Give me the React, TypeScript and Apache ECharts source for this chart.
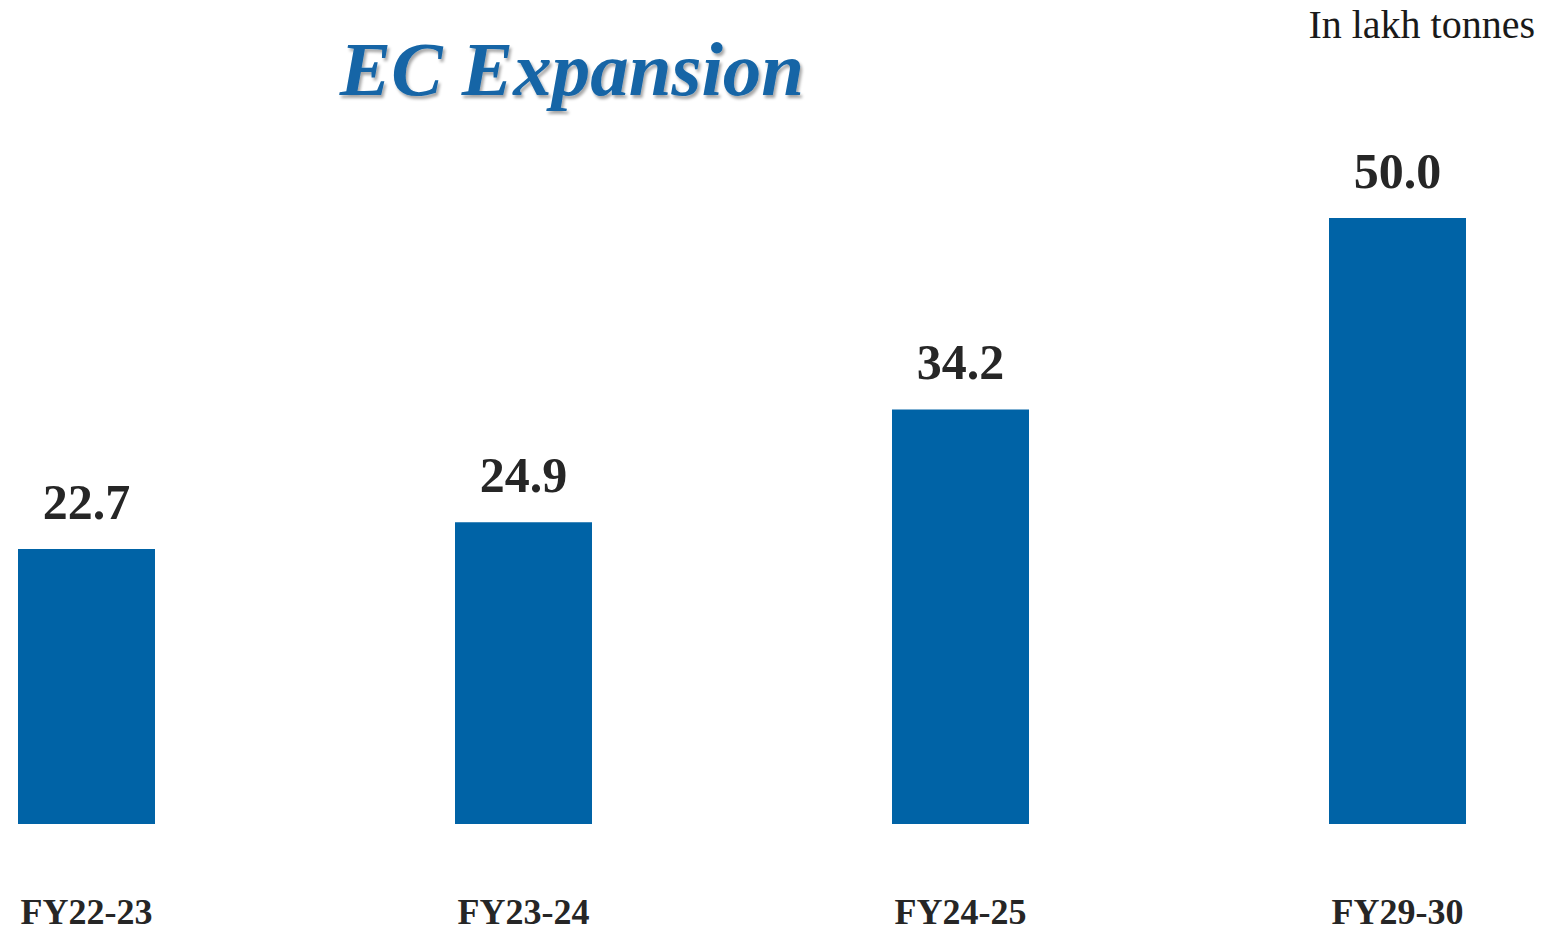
import React, { useEffect, useRef } from "react";
import * as echarts from "echarts";

const categories = ["FY22-23", "FY23-24", "FY24-25", "FY29-30"];
const values = [22.7, 24.9, 34.2, 50.0];
const titleText = "EC Expansion";
const unitText = "In lakh tonnes";

export default function App() {
  const ref = useRef<HTMLDivElement>(null);
  useEffect(() => {
    if (!ref.current) return;
    const chart = echarts.init(ref.current, null, { renderer: "svg" });
    chart.setOption({
      animation: false,
      backgroundColor: "#ffffff",
      grid: { left: 86.5, right: 148.5, top: 218, bottom: 108, containLabel: false },
      xAxis: {
        type: "category",
        data: categories,
        boundaryGap: false,
        axisLine: { show: false },
        axisTick: { show: false },
        splitLine: { show: false },
        axisLabel: {
          margin: 70,
          color: "#262626",
          fontFamily: "Liberation Serif",
          fontWeight: "bold",
          fontSize: 36,
        },
      },
      yAxis: {
        type: "value",
        min: 0,
        max: 50,
        show: false,
        splitLine: { show: false },
      },
      series: [
        {
          type: "bar",
          data: values,
          barWidth: 137,
          clip: false,
          itemStyle: { color: "#0063A6" },
          label: {
            show: true,
            position: "top",
            distance: 22,
            formatter: (p: any) => Number(p.value).toFixed(1),
            color: "#262626",
            fontFamily: "Liberation Serif",
            fontWeight: "bold",
            fontSize: 50,
          },
        },
      ],
      graphic: [
        {
          type: "text",
          x: 572,
          y: 69,
          style: {
            text: titleText,
            fontFamily: "Liberation Serif",
            fontStyle: "italic",
            fontWeight: "bold",
            fontSize: 77,
            fill: "#1565A6",
            align: "center",
            verticalAlign: "middle",
            textShadowColor: "rgba(0,0,0,0.35)",
            textShadowBlur: 3,
            textShadowOffsetX: 2,
            textShadowOffsetY: 3,
          },
        },
        {
          type: "text",
          x: 1535,
          y: 24,
          style: {
            text: unitText,
            fontFamily: "Liberation Serif",
            fontSize: 40,
            fill: "#1a1a1a",
            align: "right",
            verticalAlign: "middle",
          },
        },
      ],
    });
    return () => chart.dispose();
  }, []);
  return (
    <div
      ref={ref}
      style={{ position: "fixed", left: 0, top: 0, width: 1546, height: 932, background: "#fff" }}
    />
  );
}
